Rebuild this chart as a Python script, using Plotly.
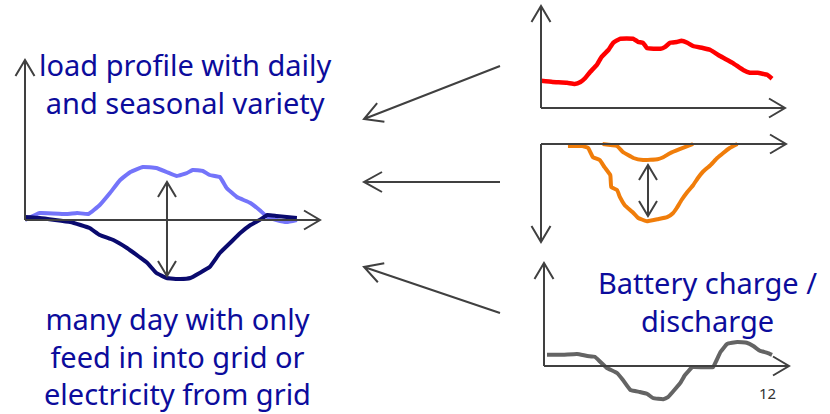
import plotly.graph_objects as go
import math

W, H = 830, 414

# ---------------- data (hours, kW) ----------------
# left panel: load profile, two days
load_a_hours = [0, 1.3, 3.7, 4.6, 5.6, 6.6, 7.5, 8.4, 9.3, 10.4, 11.6, 12.5, 13.4, 14.3, 14.8,
                15.7, 16.3, 17.2, 17.8, 18.7, 19.9, 20.7, 21.4, 22.2, 23.1, 24]
load_a_kw = [0, 0.14, 0.12, 0.14, 0.12, 0.30, 0.54, 0.80, 0.96, 1.06, 1.04, 0.96, 0.88, 0.94, 1.00,
             0.98, 0.90, 0.86, 0.64, 0.46, 0.34, 0.20, 0.06, 0.0, -0.04, 0]
load_b_hours = [0, 1.3, 4.0, 4.9, 5.7, 6.6, 7.8, 9.0, 10.1, 10.8, 11.6, 12.5, 13.7, 14.6, 15.4,
                16.3, 17.2, 18.1, 19.0, 19.9, 20.7, 21.4, 22.2, 23.1, 24]
load_b_kw = [0.06, 0.04, -0.04, -0.10, -0.16, -0.30, -0.40, -0.56, -0.74, -0.86, -1.06, -1.16, -1.18,
             -1.16, -1.06, -0.94, -0.66, -0.46, -0.26, -0.10, 0, 0.10, 0.08, 0.06, 0.04]

# top right: consumption
cons_hours = [0, 1.2, 2.7, 3.5, 4.1, 4.6, 5.1, 5.8, 6.3, 7.0, 7.5, 8.2, 9.6, 10.1, 10.6, 11.0, 12.4,
              12.9, 13.4, 14.1, 14.6, 15.2, 15.8, 16.8, 17.6, 18.6, 19.9, 21.0, 21.7, 22.5, 23.5, 24]
cons_kw = [0.68, 0.65, 0.63, 0.60, 0.65, 0.75, 0.90, 1.08, 1.28, 1.45, 1.63, 1.73, 1.73, 1.65, 1.63,
           1.50, 1.48, 1.53, 1.63, 1.65, 1.68, 1.63, 1.55, 1.50, 1.45, 1.30, 1.13, 0.95, 0.88, 0.88,
           0.83, 0.73]

# middle right: PV generation (drawn downward), summer and winter
pv_summer_hours = [2.8, 4.3, 4.9, 5.4, 6.1, 6.6, 7.2, 7.3, 7.9, 8.2, 8.7, 9.5, 10.1, 11.0, 12.1, 13.1,
                   13.7, 14.1, 14.6, 15.2, 15.8, 16.3, 16.8, 17.6, 18.3, 18.9, 19.6, 20.4]
pv_summer_kw = [-0.05, -0.05, -0.10, -0.33, -0.40, -0.58, -0.78, -1.08, -1.15, -1.33, -1.53, -1.70,
                -1.85, -1.93, -1.88, -1.83, -1.73, -1.60, -1.40, -1.20, -1.03, -0.85, -0.70, -0.53,
                -0.35, -0.23, -0.10, 0.0]
pv_winter_hours = [6.4, 7.9, 8.5, 9.6, 10.6, 12.1, 12.7, 13.4, 14.4, 15.8]
pv_winter_kw = [0, -0.05, -0.20, -0.35, -0.40, -0.38, -0.33, -0.23, -0.13, 0]

# bottom right: battery charge / discharge
batt_hours = [0, 1.7, 3.2, 4.3, 5.1, 5.7, 6.4, 7.5, 8.1, 8.9, 9.9, 10.7, 11.3, 12.4, 12.9, 13.4,
              14.2, 14.7, 15.5, 16.6, 17.7, 18.1, 18.5, 19.2, 20.3, 21.3, 22.0, 22.7, 23.5, 24]
batt_kw = [0.28, 0.28, 0.30, 0.25, 0.23, 0.10, -0.05, -0.18, -0.35, -0.60, -0.65, -0.70, -0.80,
           -0.83, -0.78, -0.65, -0.43, -0.23, -0.03, -0.03, -0.03, 0.15, 0.35, 0.55, 0.60, 0.58,
           0.50, 0.38, 0.33, 0.28]

text_color = "#0c0c9c"
axis_color = "#404040"

fig = go.Figure()


def pxd(a, b, total, flip=False):
    if flip:
        return [1 - b / total, 1 - a / total]
    return [a / total, b / total]


# panel definitions: x pixel domain, y pixel domain (top, bottom), ranges
panels = {
    "1": dict(xd=(25, 320), yd=(60, 285), xr=[0, 26.04], yr=[-1.3, 3.2]),
    "2": dict(xd=(541, 785), yd=(6, 112), xr=[0, 25.35], yr=[-0.1, 2.55]),
    "3": dict(xd=(541, 786), yd=(140, 242), xr=[0, 25.45], yr=[-2.45, 0.1]),
    "4": dict(xd=(544, 789), yd=(263, 405), xr=[-0.32, 25.81], yr=[-0.975, 2.575]),
}

layout_axes = {}
for k, p in panels.items():
    xn = "xaxis" if k == "1" else f"xaxis{k}"
    yn = "yaxis" if k == "1" else f"yaxis{k}"
    layout_axes[xn] = dict(domain=pxd(*p["xd"], W), range=p["xr"], visible=False,
                           anchor="y" if k == "1" else f"y{k}", fixedrange=True)
    layout_axes[yn] = dict(domain=pxd(*p["yd"], H, flip=True), range=p["yr"], visible=False,
                           anchor="x" if k == "1" else f"x{k}", fixedrange=True)


def add_line(x, y, color, k, width=4):
    fig.add_trace(go.Scatter(x=x, y=y, mode="lines",
                             line=dict(color=color, width=width, shape="spline", smoothing=0.3),
                             xaxis="x" if k == "1" else f"x{k}",
                             yaxis="y" if k == "1" else f"y{k}",
                             showlegend=False, hoverinfo="skip"))


# ---------------- arrows (decoration, pixel geometry -> paper) ----------------
shapes = []


def P(x, y):
    return f"{x / W:.5f},{1 - y / H:.5f}"


def arrow(x1, y1, x2, y2, back=16, half=9.5, both=False, width=2):
    dx, dy = x2 - x1, y2 - y1
    L = math.hypot(dx, dy)
    ux, uy = dx / L, dy / L
    nx, ny = -uy, ux
    path = f"M{P(x1, y1)} L{P(x2, y2)}"

    def head(ax, ay, sx, sy):
        a = (ax - sx * back + nx * half, ay - sy * back + ny * half)
        b = (ax - sx * back - nx * half, ay - sy * back - ny * half)
        return f" M{P(*a)} L{P(ax, ay)} L{P(*b)}"

    path += head(x2, y2, ux, uy)
    if both:
        path += head(x1, y1, -ux, -uy)
    shapes.append(dict(type="path", path=path, xref="paper", yref="paper",
                       line=dict(color=axis_color, width=width), layer="above"))


# left panel axes
arrow(25, 220, 25, 60)
arrow(25, 220, 320, 220)
# top right axes
arrow(541, 108, 541, 6)
arrow(541, 108, 785, 108)
# middle right axes
arrow(541, 144, 786, 144)
arrow(541, 144, 541, 242)
# bottom right axes
arrow(544, 366, 544, 263)
arrow(544, 366, 789, 366)
# double arrows
arrow(167, 182, 167, 276, both=True, back=15, half=9)
arrow(648, 165, 648, 216, both=True, back=15, half=9)
# pointer arrows
arrow(500, 66, 364, 119, back=18, half=10)
arrow(500, 182, 364, 182, back=18, half=10)
arrow(500, 313, 364, 267, back=18, half=10)

# ---------------- curves ----------------
add_line(load_a_hours, load_a_kw, "#7474fa", "1")
add_line(load_b_hours, load_b_kw, "#0a0a6e", "1")
add_line(cons_hours, cons_kw, "#ff0000", "2", width=4.5)
add_line(pv_summer_hours, pv_summer_kw, "#f07d0a", "3")
add_line(pv_winter_hours, pv_winter_kw, "#f07d0a", "3")
add_line(batt_hours, batt_kw, "#646464", "4")

# ---------------- texts ----------------
FONT = "Noto Sans"
annotations = []


def txt(s, x, y, size=29, color=text_color):
    annotations.append(dict(text=s, x=x / W, y=1 - y / H, xref="paper", yref="paper",
                            xanchor="center", yanchor="middle", showarrow=False, align="center",
                            font=dict(family=FONT, size=size, color=color)))


txt("load profile with daily<br>and seasonal variety", 185, 83)
txt("many day with only<br>feed in into grid or<br>electricity from grid", 177, 356)
txt("Battery charge /<br>discharge", 707, 301)
txt("12", 767, 393, size=15, color="#333333")

fig.update_layout(width=W, height=H, autosize=False,
                  margin=dict(l=0, r=0, t=0, b=0),
                  paper_bgcolor="white", plot_bgcolor="white",
                  shapes=shapes, annotations=annotations, **layout_axes)

fig.write_html("out.html", config={"displayModeBar": False},
               post_script="document.body.style.margin='0';document.body.style.overflow='hidden';")
